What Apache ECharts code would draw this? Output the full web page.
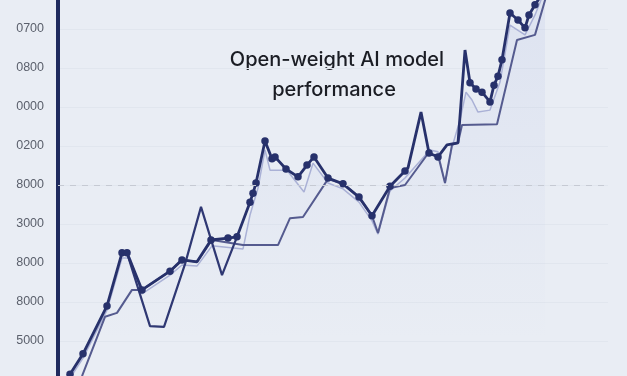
<!DOCTYPE html>
<html>
<head>
<meta charset="utf-8">
<script src="https://cdn.jsdelivr.net/npm/echarts@6/dist/echarts.min.js"></script>
<style>
html,body{margin:0;padding:0;background:#e9edf4;overflow:hidden;}
#chart{position:absolute;left:0;top:-10px;width:627px;height:390px;}
</style>
</head>
<body>
<div id="chart"></div>
<script>
// Tick labels (as printed on the reference, bottom to top)
const yTickLabels = ['', '5000', '8000', '8000', '3000', '8000', '0200', '0000', '0800', '0700', ''];
const titleLines = ['Open-weight AI model', 'performance'];

// Series A: main dark line with markers
const aX = [2.4, 5.0, 9.8, 12.8, 13.8, 16.8, 22.4, 24.8, 27.8, 30.6, 34.0, 35.8, 38.4, 39.0, 39.6, 41.4, 42.8, 43.4, 45.6, 48.0, 49.8, 51.2, 54.0, 57.0, 60.2, 62.8, 66.4, 69.4, 70.0, 72.6, 74.2, 76.0, 77.8, 80.0, 81.4, 82.4, 83.6, 84.8, 86.4, 87.2, 88.0, 88.8, 90.4, 92.0, 93.4, 94.2, 95.4, 97.4];
const aY = [0.15, 0.67, 1.90, 3.26, 3.26, 2.31, 2.79, 3.08, 3.03, 3.59, 3.64, 3.67, 4.56, 4.79, 5.05, 6.13, 5.67, 5.72, 5.41, 5.21, 5.51, 5.72, 5.18, 5.03, 4.69, 4.21, 4.97, 5.36, 5.44, 6.87, 5.82, 5.72, 6.03, 6.08, 8.46, 7.62, 7.46, 7.38, 7.13, 7.56, 7.79, 8.21, 9.41, 9.23, 9.03, 9.36, 9.62, 10.0];
const aPlainIdx = [8, 28, 29, 32, 33, 34, 47]; // vertices drawn without a marker

// Series B: lower stepped line
const bX = [4.8, 9.4, 11.8, 14.8, 16.8, 22.4, 24.8, 27.8, 30.8, 37.0, 44.0, 46.4, 49.0, 54.0, 57.0, 60.2, 62.8, 64.0, 66.4, 69.4, 73.8, 76.0, 77.4, 78.8, 80.0, 80.8, 87.8, 91.8, 95.4, 98.0];
const bY = [0.10, 1.62, 1.72, 2.31, 2.31, 2.79, 3.08, 3.03, 3.59, 3.46, 3.46, 4.15, 4.18, 5.15, 5.03, 4.69, 4.21, 3.77, 4.92, 5.00, 5.77, 5.77, 5.05, 6.03, 6.08, 6.54, 6.56, 8.72, 8.85, 10.0];

// Series D: secondary zigzag segment
const dX = [13.8, 18.4, 21.2, 25.4, 28.6, 32.8, 35.8];
const dY = [3.26, 1.38, 1.36, 2.97, 4.44, 2.69, 3.67];

// Series C: light line with shaded area
const cX = [2.4, 5.0, 9.8, 12.8, 14.4, 16.8, 22.4, 24.8, 27.8, 30.8, 37.0, 38.4, 40.0, 41.4, 42.4, 45.8, 49.2, 51.0, 54.0, 57.0, 60.2, 62.8, 64.0, 66.4, 69.4, 74.4, 76.0, 77.4, 78.8, 80.4, 81.6, 82.8, 84.0, 86.4, 88.4, 90.4, 93.4, 95.4, 97.4];
const cY = [0.05, 0.56, 1.79, 3.13, 3.13, 2.21, 2.69, 2.95, 2.92, 3.44, 3.36, 4.23, 4.92, 5.90, 5.38, 5.38, 4.82, 5.56, 5.05, 4.90, 4.56, 4.08, 3.74, 4.85, 5.18, 5.90, 5.85, 5.05, 5.97, 6.67, 7.38, 7.18, 6.87, 6.92, 7.64, 9.10, 8.85, 9.36, 10.0];

const dashedLevel = 5;

function pairs(xs, ys) { return xs.map((x, i) => [x, ys[i]]); }

const aData = pairs(aX, aY).map((p, i) => aPlainIdx.includes(i) ? { value: p, symbolSize: 0 } : { value: p });

const chart = echarts.init(document.getElementById('chart'), null, { renderer: 'canvas' });
chart.setOption({
  backgroundColor: '#e9edf4',
  animation: false,
  grid: { left: 58, top: 0, width: 550, height: 390, containLabel: false },
  xAxis: {
    type: 'value', min: 0, max: 110,
    show: false
  },
  yAxis: {
    type: 'value', min: 0, max: 10, interval: 1,
    axisLine: { show: true, lineStyle: { color: '#1f2a5e', width: 4 } },
    axisTick: { show: false },
    axisLabel: {
      margin: 14, color: '#5b606c', fontSize: 12.5,
      fontFamily: 'Liberation Sans, Arial, sans-serif',
      formatter: v => yTickLabels[Math.round(v)] || ''
    },
    splitLine: { show: true, lineStyle: { color: '#e1e6ee', width: 1 } }
  },
  graphic: [
    { type: 'text', x: 337, y: 70, style: { text: titleLines[0], fill: '#1b1d24', font: '500 20px Inter, "Open Sans", sans-serif', textAlign: 'center', textVerticalAlign: 'middle', verticalAlign: 'middle' } },
    { type: 'text', x: 334, y: 100, style: { text: titleLines[1], fill: '#1b1d24', font: '500 20px Inter, "Open Sans", sans-serif', textAlign: 'center', textVerticalAlign: 'middle', verticalAlign: 'middle' } }
  ],
  series: [
    {
      type: 'line', data: pairs(cX, cY), symbol: 'none', z: 1,
      lineStyle: { color: '#aab1d6', width: 1.5 },
      areaStyle: {
        color: new echarts.graphic.LinearGradient(0, 0, 0, 1, [
          { offset: 0, color: 'rgba(150,165,220,0.20)' },
          { offset: 0.5, color: 'rgba(150,165,220,0.09)' },
          { offset: 0.9, color: 'rgba(150,165,220,0.0)' }
        ])
      },
      markLine: {
        silent: true, symbol: 'none', label: { show: false },
        lineStyle: { color: '#c6cad3', type: [6, 6], width: 1.2 },
        data: [{ yAxis: dashedLevel }]
      }
    },
    {
      type: 'line', data: pairs(bX, bY), symbol: 'none', z: 2,
      lineStyle: { color: '#555b8f', width: 2 }
    },
    {
      type: 'line', data: pairs(dX, dY), symbol: 'none', z: 3,
      lineStyle: { color: '#2f3873', width: 2.2 }
    },
    {
      type: 'line', data: aData, z: 4,
      symbol: 'circle', symbolSize: 7.5, showAllSymbol: true,
      itemStyle: { color: '#27316b' },
      lineStyle: { color: '#27316b', width: 2.8 }
    }
  ]
});
</script>
</body>
</html>
